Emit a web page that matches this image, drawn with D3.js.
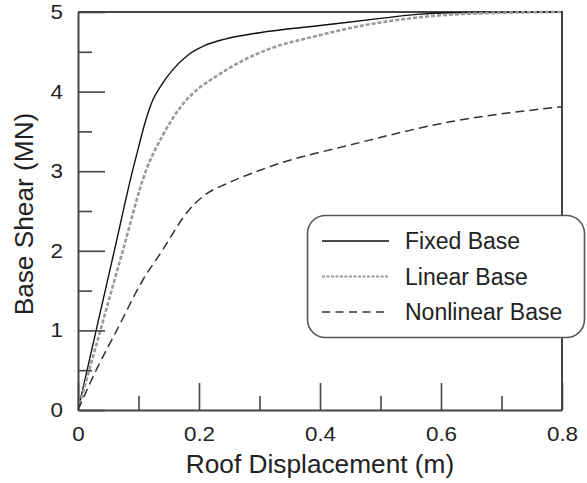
<!DOCTYPE html>
<html>
<head>
<meta charset="utf-8">
<script src="https://cdn.jsdelivr.net/npm/d3@7"></script>
<style>
  body { margin: 0; background: #fff; }
  text { font-family: "Liberation Sans", Arial, sans-serif; fill: #222; }
</style>
</head>
<body>
<div id="chart"></div>
<script>
// pushover curves
var fixedDisp  = [0, 0.03, 0.06, 0.09, 0.1, 0.112, 0.124, 0.136, 0.155, 0.182, 0.21, 0.243, 0.3, 0.4, 0.5, 0.56, 0.62, 0.8];
var fixedShear = [0, 1, 2, 3, 3.3, 3.64, 3.9, 4.06, 4.26, 4.46, 4.58, 4.66, 4.74, 4.83, 4.92, 4.97, 4.99, 5.0];

var linearDisp  = [0, 0.02, 0.037, 0.074, 0.112, 0.14, 0.166, 0.19, 0.226, 0.27, 0.314, 0.395, 0.478, 0.56, 0.65, 0.8];
var linearShear = [0, 0.54, 1, 2, 3, 3.45, 3.77, 3.98, 4.18, 4.38, 4.53, 4.7, 4.84, 4.93, 4.98, 5.0];

var nonlinDisp  = [0, 0.03, 0.064, 0.107, 0.139, 0.182, 0.206, 0.248, 0.293, 0.326, 0.45, 0.615, 0.8];
var nonlinShear = [0, 0.5, 1, 1.63, 2, 2.5, 2.68, 2.85, 2.99, 3.08, 3.33, 3.62, 3.81];

var xMajor = [0, 0.2, 0.4, 0.6, 0.8];
var xMinor = [0.1, 0.3, 0.5, 0.7];
var yMajor = [0, 1, 2, 3, 4, 5];
var yMinor = [0.5, 1.5, 2.5, 3.5, 4.5];

var seriesNames = ["Fixed Base", "Linear Base", "Nonlinear Base"];

let width = 587;
let height = 483;
var margin = {left: 78, right: 25, top: 12, bottom: 73};

var svg = d3.select("#chart")
  .append("svg")
    .attr("width", width)
    .attr("height", height);

var x = d3.scaleLinear().domain([0, 0.8]).range([margin.left, width - margin.right]);
var y = d3.scaleLinear().domain([0, 5]).range([height - margin.bottom, margin.top]);

var axisColor = "#444";

// tick marks collected from the axes, drawn on top at the end
var tickMarks = [];

function readTranslate(node) {
  var t = node.getAttribute("transform") || "";
  var m = /translate\(([-\d.e]+)[ ,]*([-\d.e]*)\)/.exec(t);
  return m ? [+m[1], +(m[2] || 0)] : [0, 0];
}

function collectTicks(g) {
  var base = readTranslate(g.node());
  g.selectAll(".tick").each(function () {
    var p = readTranslate(this);
    var l = d3.select(this).select("line");
    tickMarks.push({
      x: base[0] + p[0],
      y: base[1] + p[1],
      dx: +l.attr("x2") || 0,
      dy: +l.attr("y2") || 0
    });
    l.remove();
  });
}

// labels are stretched sideways in the original
function stretch(sel) {
  sel.selectAll("text").each(function () {
    var t = d3.select(this);
    var tx = +t.attr("x") || 0, ty = +t.attr("y") || 0;
    t.attr("x", null).attr("y", null)
      .attr("transform", "translate(" + tx + "," + ty + ") scale(1.12,1)");
  });
}

// minor ticks, no labels
svg.append("g")
  .attr("transform", "translate(0," + y(0) + ")")
  .call(d3.axisBottom(x).tickValues(xMinor).tickSize(-14).tickFormat(""))
  .call(g => g.select(".domain").remove())
  .call(collectTicks);

svg.append("g")
  .attr("transform", "translate(" + x(0) + ",0)")
  .call(d3.axisLeft(y).tickValues(yMinor).tickSize(-14).tickFormat(""))
  .call(g => g.select(".domain").remove())
  .call(collectTicks);

// major ticks with labels
var xAxis = svg.append("g")
  .attr("transform", "translate(0," + y(0) + ")")
  .call(d3.axisBottom(x).tickValues(xMajor).tickSizeInner(-27).tickSizeOuter(0)
    .tickPadding(17).tickFormat(d => d === 0 ? "0" : d3.format(".1f")(d)))
  .call(collectTicks);
xAxis.selectAll("text").style("font-size", "20px");

var yAxis = svg.append("g")
  .attr("transform", "translate(" + x(0) + ",0)")
  .call(d3.axisLeft(y).tickValues(yMajor).tickSizeInner(-27).tickSizeOuter(0)
    .tickPadding(15).tickFormat(d3.format("d")))
  .call(collectTicks);
yAxis.selectAll("text").style("font-size", "20px");

svg.selectAll(".domain").attr("stroke", axisColor).attr("stroke-width", 2);

// top and right frame
svg.append("path")
  .attr("d", "M" + x(0) + "," + y(5) + "H" + x(0.8) + "V" + y(0))
  .attr("fill", "none")
  .attr("stroke", axisColor)
  .attr("stroke-width", 2);

stretch(xAxis);
stretch(yAxis);

// axis titles
svg.append("text")
  .attr("transform", "translate(" + ((x(0) + x(0.8)) / 2) + ",473) scale(1.05,1)")
  .attr("text-anchor", "middle")
  .style("font-size", "25px")
  .text("Roof Displacement (m)");

svg.append("text")
  .attr("transform", "translate(33," + ((y(0) + y(5)) / 2 + 3) + ") rotate(-90) scale(1.05,1)")
  .attr("text-anchor", "middle")
  .style("font-size", "25px")
  .text("Base Shear (MN)");

// curves
var styles = [
  {stroke: "#111", width: 1.4, dash: null},
  {stroke: "#9a9a9a", width: 2.6, dash: "4 2"},
  {stroke: "#333", width: 1.5, dash: "9 5"}
];
var series = [
  d3.zip(fixedDisp, fixedShear),
  d3.zip(linearDisp, linearShear),
  d3.zip(nonlinDisp, nonlinShear)
];

var curve = d3.line()
  .x(d => x(d[0]))
  .y(d => y(d[1]))
  .curve(d3.curveMonotoneX);

svg.append("g")
  .selectAll("path")
  .data(series)
  .join("path")
    .attr("d", curve)
    .attr("fill", "none")
    .attr("stroke", (d, i) => styles[i].stroke)
    .attr("stroke-width", (d, i) => styles[i].width)
    .attr("stroke-dasharray", (d, i) => styles[i].dash);

// tick marks, inside the frame
svg.append("g")
  .attr("class", "tick-marks")
  .selectAll("path")
  .data(tickMarks)
  .join("path")
    .attr("d", d => "M" + d.x + "," + d.y + "l" + d.dx + "," + d.dy)
    .attr("fill", "none")
    .attr("stroke", axisColor)
    .attr("stroke-width", 1.6);

// legend
var legend = svg.append("g");
legend.append("rect")
  .attr("x", 307.5)
  .attr("y", 215.5)
  .attr("width", 277)
  .attr("height", 122)
  .attr("rx", 18)
  .attr("fill", "#fff")
  .attr("stroke", "#555")
  .attr("stroke-width", 1.6);

var rows = legend.selectAll(".row")
  .data(seriesNames)
  .join("g")
    .attr("class", "row")
    .attr("transform", (d, i) => "translate(0," + (241 + i * 35.5) + ")");

rows.append("path")
  .attr("d", "M322,0H389")
  .attr("fill", "none")
  .attr("stroke", (d, i) => styles[i].stroke)
  .attr("stroke-width", (d, i) => i === 1 ? 2 : styles[i].width)
  .attr("stroke-dasharray", (d, i) => i === 1 ? "3 1.5" : (i === 2 ? "8 5.5" : null));

rows.append("text")
  .attr("x", 405)
  .attr("y", 8)
  .style("font-size", "23px")
  .text(d => d);
</script>
</body>
</html>
